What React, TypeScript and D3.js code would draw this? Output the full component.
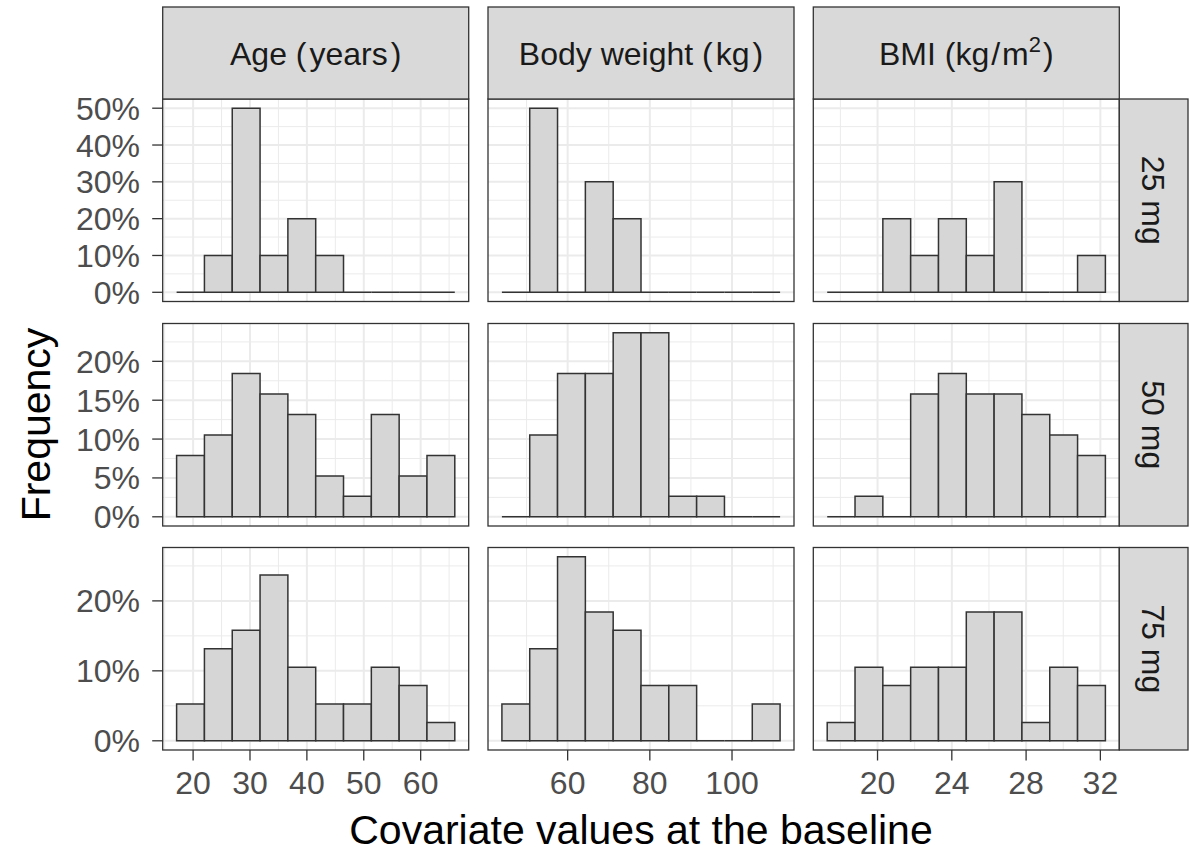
import React from "react";
import * as d3 from "d3";

// ---- data ----
const doses = ["25 mg", "50 mg", "75 mg"];
const covariates = ["Age (years)", "Body weight (kg)", "BMI"];
const binStarts = [17.1, 44.0, 17.29];
const binWidths = [4.89, 6.77, 1.498];
const xTicksAge = [20, 30, 40, 50, 60];
const xTicksWeight = [60, 80, 100];
const xTicksBmi = [20, 24, 28, 32];

const age25 = [0, 1, 5, 1, 2, 1, 0, 0, 0, 0];
const age50 = [3, 4, 7, 6, 5, 2, 1, 5, 2, 3];
const age75 = [2, 5, 6, 9, 4, 2, 2, 4, 3, 1];
const weight25 = [0, 5, 0, 3, 2, 0, 0, 0, 0, 0];
const weight50 = [0, 4, 7, 7, 9, 9, 1, 1, 0, 0];
const weight75 = [2, 5, 10, 7, 6, 3, 3, 0, 0, 2];
const bmi25 = [0, 0, 2, 1, 2, 1, 3, 0, 0, 1];
const bmi50 = [0, 1, 0, 6, 7, 6, 6, 5, 4, 3];
const bmi75 = [1, 4, 3, 4, 4, 7, 7, 1, 4, 3];

const yTicks25 = [0, 0.1, 0.2, 0.3, 0.4, 0.5];
const yTicks50 = [0, 0.05, 0.1, 0.15, 0.2];
const yTicks75 = [0, 0.1, 0.2];

const counts = [
  [age25, weight25, bmi25],
  [age50, weight50, bmi50],
  [age75, weight75, bmi75],
];
const xTicks = [xTicksAge, xTicksWeight, xTicksBmi];
const yTicks = [yTicks25, yTicks50, yTicks75];

// ---- layout ----
const W = 1189;
const H = 855;
const colLeft = [162.7, 488, 813.3];
const panelW = 306;
const rowTop = [99, 323.5, 547.5];
const panelH = 202.5;
const stripTop = 7;
const stripRight = 1188;
const FONT = "'Liberation Sans', Arial, Helvetica, sans-serif";
const tickFont = 32;
const titleFont = 41;

function minorTicks(ticks: number[], domain: number[]) {
  const step = ticks[1] - ticks[0];
  const out: number[] = [];
  for (let v = ticks[0] - step / 2; v <= domain[1]; v += step) {
    if (v >= domain[0]) out.push(v);
  }
  return out;
}

export default function App() {
  const xScales = colLeft.map((left, c) => {
    const start = binStarts[c];
    const end = start + binWidths[c] * 10;
    const pad = (end - start) * 0.05;
    return d3.scaleLinear().domain([start - pad, end + pad]).range([left, left + panelW]);
  });
  const yScales = rowTop.map((top, r) => {
    const maxF = d3.max(counts[r].map((arr) => {
      const tot = d3.sum(arr);
      return d3.max(arr, (v) => v / tot) as number;
    })) as number;
    return d3.scaleLinear().domain([-0.05 * maxF, 1.05 * maxF]).range([top + panelH, top]);
  });
  const fmt = d3.format(".0%");

  const panels: React.ReactNode[] = [];
  for (let r = 0; r < 3; r++) {
    for (let c = 0; c < 3; c++) {
      const xs = xScales[c];
      const ys = yScales[r];
      const left = colLeft[c];
      const top = rowTop[r];
      const arr = counts[r][c];
      const tot = d3.sum(arr);
      const xd = xs.domain();
      const yd = ys.domain();
      const xMin = minorTicks(xTicks[c], xd);
      const yMin = minorTicks(yTicks[r], yd);
      panels.push(
        <g key={`p${r}${c}`}>
          <rect x={left} y={top} width={panelW} height={panelH} fill="#fff" />
          {xMin.map((v) => (
            <line key={`xm${v}`} x1={xs(v)} x2={xs(v)} y1={top} y2={top + panelH} stroke="#EBEBEB" strokeWidth={1} />
          ))}
          {yMin.map((v) => (
            <line key={`ym${v}`} x1={left} x2={left + panelW} y1={ys(v)} y2={ys(v)} stroke="#EBEBEB" strokeWidth={1} />
          ))}
          {xTicks[c].map((v) => (
            <line key={`xM${v}`} x1={xs(v)} x2={xs(v)} y1={top} y2={top + panelH} stroke="#EBEBEB" strokeWidth={2} />
          ))}
          {yTicks[r].map((v) => (
            <line key={`yM${v}`} x1={left} x2={left + panelW} y1={ys(v)} y2={ys(v)} stroke="#EBEBEB" strokeWidth={2} />
          ))}
          {arr.map((n, i) => {
            const x0 = xs(binStarts[c] + i * binWidths[c]);
            const x1 = xs(binStarts[c] + (i + 1) * binWidths[c]);
            const y0 = ys(0);
            const y1 = ys(n / tot);
            return (
              <path
                key={`b${i}`}
                d={`M${x0},${y0}H${x1}V${y1}H${x0}Z`}
                fill="#D6D6D6"
                stroke="#333333"
                strokeWidth={1.5}
              />
            );
          })}
          <rect x={left} y={top} width={panelW} height={panelH} fill="none" stroke="#333333" strokeWidth={1.3} />
        </g>
      );
    }
  }

  // y axes (column 1)
  const yAxes = rowTop.map((top, r) => (
    <g key={`ya${r}`}>
      {yTicks[r].map((v) => (
        <g key={v}>
          <line x1={colLeft[0] - 10.5} x2={colLeft[0]} y1={yScales[r](v)} y2={yScales[r](v)} stroke="#333333" strokeWidth={1.3} />
          <text x={140} y={yScales[r](v) + tickFont * 0.36} textAnchor="end" fontSize={tickFont} fill="#4D4D4D">
            {fmt(v)}
          </text>
        </g>
      ))}
    </g>
  ));

  const bottom = rowTop[2] + panelH;
  const xAxes = colLeft.map((left, c) => (
    <g key={`xa${c}`}>
      {xTicks[c].map((v) => (
        <g key={v}>
          <line x1={xScales[c](v)} x2={xScales[c](v)} y1={bottom} y2={bottom + 10.5} stroke="#333333" strokeWidth={1.3} />
          <text x={xScales[c](v)} y={bottom + 44} textAnchor="middle" fontSize={tickFont} fill="#4D4D4D">
            {v}
          </text>
        </g>
      ))}
    </g>
  ));

  const stripH = rowTop[0] - stripTop;
  const stripCy = stripTop + stripH / 2 + tickFont * 0.36;
  const labelParts = covariates.map((s) => {
    const m = s.match(/^(.*) \((.*)\)$/);
    return m ? [m[1], m[2]] : [s, ""];
  });
  const topStrips = colLeft.map((left, c) => (
    <g key={`ts${c}`}>
      <rect x={left} y={stripTop} width={panelW} height={stripH} fill="#D9D9D9" stroke="#333333" strokeWidth={1.3} />
      {c === 2 ? (
        <text x={left + panelW / 2} y={stripCy} textAnchor="middle" fontSize={tickFont} fill="#1A1A1A">
          {covariates[c]} (kg<tspan dx={2}>/</tspan><tspan dx={2}>m</tspan>
          <tspan dy={-13} fontSize={22}>2</tspan>
          <tspan dy={13} dx={2} fontSize={tickFont}>)</tspan>
        </text>
      ) : (
        <text x={left + panelW / 2} y={stripCy} textAnchor="middle" fontSize={tickFont} fill="#1A1A1A">
          {labelParts[c][0]} (<tspan dx={3}>{labelParts[c][1]}</tspan>
          <tspan dx={3}>)</tspan>
        </text>
      )}
    </g>
  ));

  const rsLeft = colLeft[2] + panelW;
  const rightStrips = rowTop.map((top, r) => {
    const cx = (rsLeft + stripRight) / 2;
    const cy = top + panelH / 2;
    return (
      <g key={`rs${r}`}>
        <rect x={rsLeft} y={top} width={stripRight - rsLeft} height={panelH} fill="#D9D9D9" stroke="#333333" strokeWidth={1.3} />
        <text
          transform={`translate(${cx},${cy}) rotate(90)`}
          y={tickFont * 0.36}
          textAnchor="middle"
          fontSize={tickFont}
          fill="#1A1A1A"
        >
          {doses[r]}
        </text>
      </g>
    );
  });

  const plotMidX = (colLeft[0] + colLeft[2] + panelW) / 2;
  const plotMidY = (rowTop[0] + bottom) / 2;

  return (
    <svg width={W} height={H} style={{ position: "absolute", left: 0, top: 0, background: "#fff" }} fontFamily={FONT}>
      <rect x={0} y={0} width={W} height={H} fill="#fff" />
      {panels}
      {topStrips}
      {rightStrips}
      {yAxes}
      {xAxes}
      <text transform={`translate(50,${plotMidY}) rotate(-90)`} textAnchor="middle" fontSize={titleFont} fill="#000">
        Frequency
      </text>
      <text x={plotMidX} y={844} textAnchor="middle" fontSize={titleFont} fill="#000">
        Covariate values at the baseline
      </text>
    </svg>
  );
}
